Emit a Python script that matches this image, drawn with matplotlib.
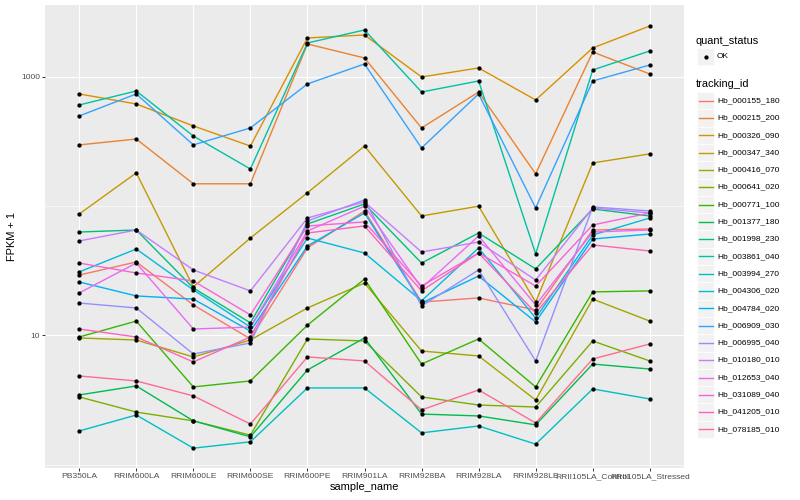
import numpy as np
import matplotlib
matplotlib.use("Agg")
import matplotlib.pyplot as plt
from matplotlib.ticker import FixedLocator, NullFormatter
from matplotlib.lines import Line2D
from matplotlib.patches import Rectangle

# -------------------------------
# Data (FPKM + 1)
# -------------------------------
samples = ["PB350LA", "RRIM600LA", "RRIM600LE", "RRIM600SE", "RRIM600PE",
           "RRIM901LA", "RRIM928BA", "RRIM928LA", "RRIM928LE",
           "RRII105LA_Control", "RRII105LA_Stressed"]

tracking_ids = ["Hb_000155_180", "Hb_000215_200", "Hb_000326_090", "Hb_000347_340",
                "Hb_000416_070", "Hb_000641_020", "Hb_000771_100", "Hb_001377_180",
                "Hb_001998_230", "Hb_003861_040", "Hb_003994_270", "Hb_004306_020",
                "Hb_004784_020", "Hb_006909_030", "Hb_006995_040", "Hb_010180_010",
                "Hb_012653_040", "Hb_031089_040", "Hb_041205_010", "Hb_078185_010"]

hb_000155_180 = [29.3, 37.0, 17.2, 9.4, 47.5, 91.8, 18.1, 19.5, 15.7, 65.4, 66.6]
hb_000215_200 = [298, 331, 149, 149, 1801, 1403, 403, 765, 178, 1561, 1055]
hb_000326_090 = [739, 618, 418, 292, 2004, 2114, 1000, 1174, 664, 1677, 2481]
hb_000347_340 = [87.0, 181, 23.7, 56.7, 127, 292, 84.0, 100, 18.1, 216, 254]
hb_000416_070 = [9.55, 9.21, 6.81, 9.21, 16.3, 25.4, 7.57, 6.93, 3.16, 19.1, 12.9]
hb_000641_020 = [3.34, 2.55, 2.18, 1.69, 9.38, 9.05, 3.34, 2.89, 2.79, 9.05, 6.34]
hb_000771_100 = [9.72, 12.9, 3.99, 4.44, 12.0, 27.3, 6.00, 9.38, 3.99, 21.7, 22.1]
hb_001377_180 = [3.46, 4.06, 2.18, 1.64, 5.40, 9.55, 2.46, 2.38, 2.03, 6.00, 5.49]
hb_001998_230 = [63.1, 65.4, 23.3, 12.5, 72.8, 104, 36.3, 62.0, 32.7, 95.1, 84.0]
hb_003861_040 = [607, 779, 349, 194, 1833, 2311, 765, 931, 42.7, 1133, 1589]
hb_003994_270 = [1.82, 2.42, 1.34, 1.50, 3.92, 3.92, 1.76, 1.99, 1.44, 3.85, 3.22]
hb_004306_020 = [31.0, 46.6, 22.5, 11.6, 56.7, 43.4, 18.5, 47.5, 13.6, 59.8, 81.0]
hb_004784_020 = [25.9, 20.2, 19.1, 10.8, 49.2, 88.6, 17.8, 28.8, 12.7, 55.7, 60.9]
hb_006909_030 = [499, 739, 298, 403, 883, 1261, 282, 739, 96.9, 931, 1238]
hb_006995_040 = [17.8, 16.3, 7.18, 8.73, 76.8, 111.7, 16.9, 32.1, 6.34, 98.6, 91.8]
hb_010180_010 = [53.8, 65.4, 32.1, 22.1, 81.0, 107.8, 44.2, 52.8, 26.8, 96.9, 88.6]
hb_012653_040 = [21.3, 36.3, 11.2, 11.6, 64.3, 100, 23.3, 58.8, 17.2, 63.1, 65.4]
hb_031089_040 = [36.3, 30.4, 26.4, 14.4, 70.3, 75.5, 24.1, 43.4, 24.1, 71.5, 88.6]
hb_041205_010 = [11.2, 9.72, 6.23, 9.72, 62.0, 70.3, 22.1, 43.4, 14.9, 50.1, 45.0]
hb_078185_010 = [4.85, 4.44, 3.40, 2.06, 6.81, 6.34, 2.65, 3.78, 2.10, 6.57, 8.58]

series = [hb_000155_180, hb_000215_200, hb_000326_090, hb_000347_340,
          hb_000416_070, hb_000641_020, hb_000771_100, hb_001377_180,
          hb_001998_230, hb_003861_040, hb_003994_270, hb_004306_020,
          hb_004784_020, hb_006909_030, hb_006995_040, hb_010180_010,
          hb_012653_040, hb_031089_040, hb_041205_010, hb_078185_010]

# ggplot2 default hue palette, 20 levels
colors = ["#F8766D", "#EA8331", "#D89000", "#C09B00", "#A3A500", "#7CAE00",
          "#39B600", "#00BB4E", "#00BF7D", "#00C1A3", "#00BFC4", "#00BAE0",
          "#00B0F6", "#35A2FF", "#9590FF", "#C77CFF", "#E76BF3", "#FA62DB",
          "#FF62BC", "#FF6C91"]

plt.rcParams["font.family"] = ["Liberation Sans", "DejaVu Sans"]

W, H = 800, 500


def px(x, y):
    """pixel position (from top-left) -> figure fraction"""
    return x / W, 1 - y / H


# -------------------------------
# Panel
# -------------------------------
fig = plt.figure(figsize=(8, 5), dpi=100)
fig.patch.set_facecolor("white")
left, right, top, bottom = 45, 684, 5, 468
ax = fig.add_axes([left / W, 1 - bottom / H, (right - left) / W, (bottom - top) / H])
ax.set_facecolor("#EBEBEB")
for s in ax.spines.values():
    s.set_visible(False)

x = np.arange(len(samples))
for vals, col in zip(series, colors):
    ax.plot(x, vals, color=col, lw=1.0, zorder=2, solid_capstyle="butt")
for vals in series:
    ax.plot(x, vals, ls="none", marker="o", ms=3.1, mew=0, color="black", zorder=3)

ax.set_yscale("log")
ax.set_ylim(0.941, 3606)
ax.set_xlim(-0.6, len(samples) - 0.4)

ax.yaxis.set_major_locator(FixedLocator([10, 1000]))
ax.set_yticklabels(["10", "1000"])
ax.yaxis.set_minor_locator(FixedLocator([1, 100]))
ax.yaxis.set_minor_formatter(NullFormatter())
ax.set_xticks(x)
ax.set_xticklabels(samples)

ax.set_axisbelow(True)
ax.grid(which="major", color="white", lw=0.85)
ax.grid(which="minor", axis="y", color="white", lw=0.45)
ax.tick_params(which="major", length=2.2, width=0.7, color="#333333",
               labelcolor="#4D4D4D", labelsize=6.1, pad=1.5)
ax.tick_params(which="minor", length=0)

fig.text(*px(364.5, 487), "sample_name", ha="center", va="center", fontsize=7.9)
fig.text(*px(12, 236.5), "FPKM + 1", ha="center", va="center", rotation=90, fontsize=7.9)

# -------------------------------
# Legends (drawn by hand, ggplot style)
# -------------------------------
key_x, key_w, key_h = 697, 17, 17.3
text_x = 717

fig.text(*px(696, 40.5), "quant_status", ha="left", va="center", fontsize=7.9)
fig.patches.append(Rectangle(px(key_x, 56.7 + key_h / 2), key_w / W, key_h / H,
                             transform=fig.transFigure, fc="#F2F2F2", ec="white", lw=0.5))
fig.lines.append(Line2D([px(key_x + key_w / 2, 0)[0]], [px(0, 56.7)[1]], ls="none",
                        marker="o", ms=3.1, mew=0, color="black",
                        transform=fig.transFigure))
fig.text(*px(text_x, 56.7), "OK", ha="left", va="center", fontsize=6.0)

fig.text(*px(696, 84), "tracking_id", ha="left", va="center", fontsize=7.9)
for i, (tid, col) in enumerate(zip(tracking_ids, colors)):
    yc = 100.7 + key_h * i
    fig.patches.append(Rectangle(px(key_x, yc + key_h / 2), key_w / W, key_h / H,
                                 transform=fig.transFigure, fc="#F2F2F2", ec="white", lw=0.5))
    x0, y0 = px(key_x + 1.5, yc)
    x1, _ = px(key_x + key_w - 1.5, yc)
    fig.lines.append(Line2D([x0, x1], [y0, y0], color=col, lw=1.0,
                            transform=fig.transFigure))
    fig.text(*px(text_x, yc), tid, ha="left", va="center", fontsize=6.0)

fig.savefig("out.png", dpi=100)
